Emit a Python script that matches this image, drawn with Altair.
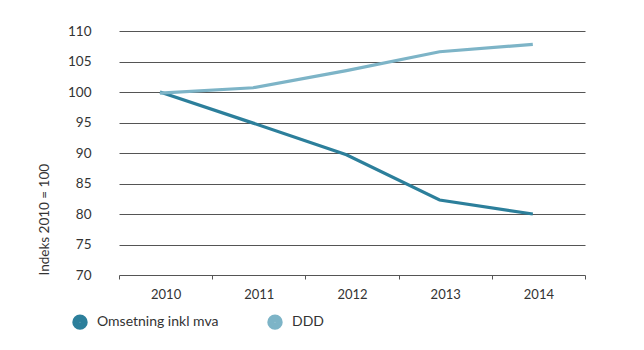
import altair as alt
import pandas as pd

years = ["2010", "2011", "2012", "2013", "2014"]
series_names = ["Omsetning inkl mva", "DDD"]
omsetning = [100, 94.9, 89.7, 82.3, 80.0]
ddd = [99.8, 100.7, 103.5, 106.6, 107.8]
y_ticks = [70, 75, 80, 85, 90, 95, 100, 105, 110]
colors = ["#2c7f9b", "#7db4c7"]

rows = []
for y, v in zip(years, omsetning):
    rows.append({"year": y, "value": v, "series": series_names[0]})
for y, v in zip(years, ddd):
    rows.append({"year": y, "value": v, "series": series_names[1]})
df = pd.DataFrame(rows)

FONT = "Lato"

chart = alt.Chart(df).mark_line(strokeWidth=3.2).encode(
    x=alt.X("year:N", bandPosition=0.44, title=None,
            scale=alt.Scale(type="band", paddingInner=0, paddingOuter=0, range=[4, 470]),
            axis=alt.Axis(domain=False, grid=False, tickBand="extent", ticks=True,
                          tickSize=4, tickColor="#555", tickWidth=1,
                          labelAngle=0, labelFontSize=13, labelColor="#333",
                          labelFont=FONT, labelPadding=9)),
    y=alt.Y("value:Q", title="Indeks 2010 = 100",
            scale=alt.Scale(domain=[70, 110], nice=False, zero=False),
            axis=alt.Axis(values=y_ticks, domain=False, ticks=False, grid=True,
                          gridColor="#555", gridWidth=1, gridOpacity=1,
                          labelFontSize=13.5, labelColor="#333", labelFont=FONT,
                          labelPadding=24, titleFont=FONT, titleFontSize=13.5,
                          titleFontWeight="normal", titleColor="#333",
                          titlePadding=16, titleAnchor="start")),
    color=alt.Color("series:N", sort=series_names,
                    scale=alt.Scale(domain=series_names, range=colors),
                    legend=alt.Legend(title=None, orient="none", direction="horizontal",
                                      legendX=-43, legendY=283,
                                      symbolType="circle", symbolSize=55,
                                      symbolStrokeWidth=8,
                                      labelFontSize=14, labelFont=FONT, labelColor="#333",
                                      columnPadding=36, labelOffset=9)),
).properties(
    width=475, height=244,
    padding={"left": 115, "top": 31, "right": 54, "bottom": 75},
    autosize=alt.AutoSizeParams(type="none"),
).configure_view(stroke=None)

chart.save("out.html", embed_options={"renderer": "svg", "actions": False})
